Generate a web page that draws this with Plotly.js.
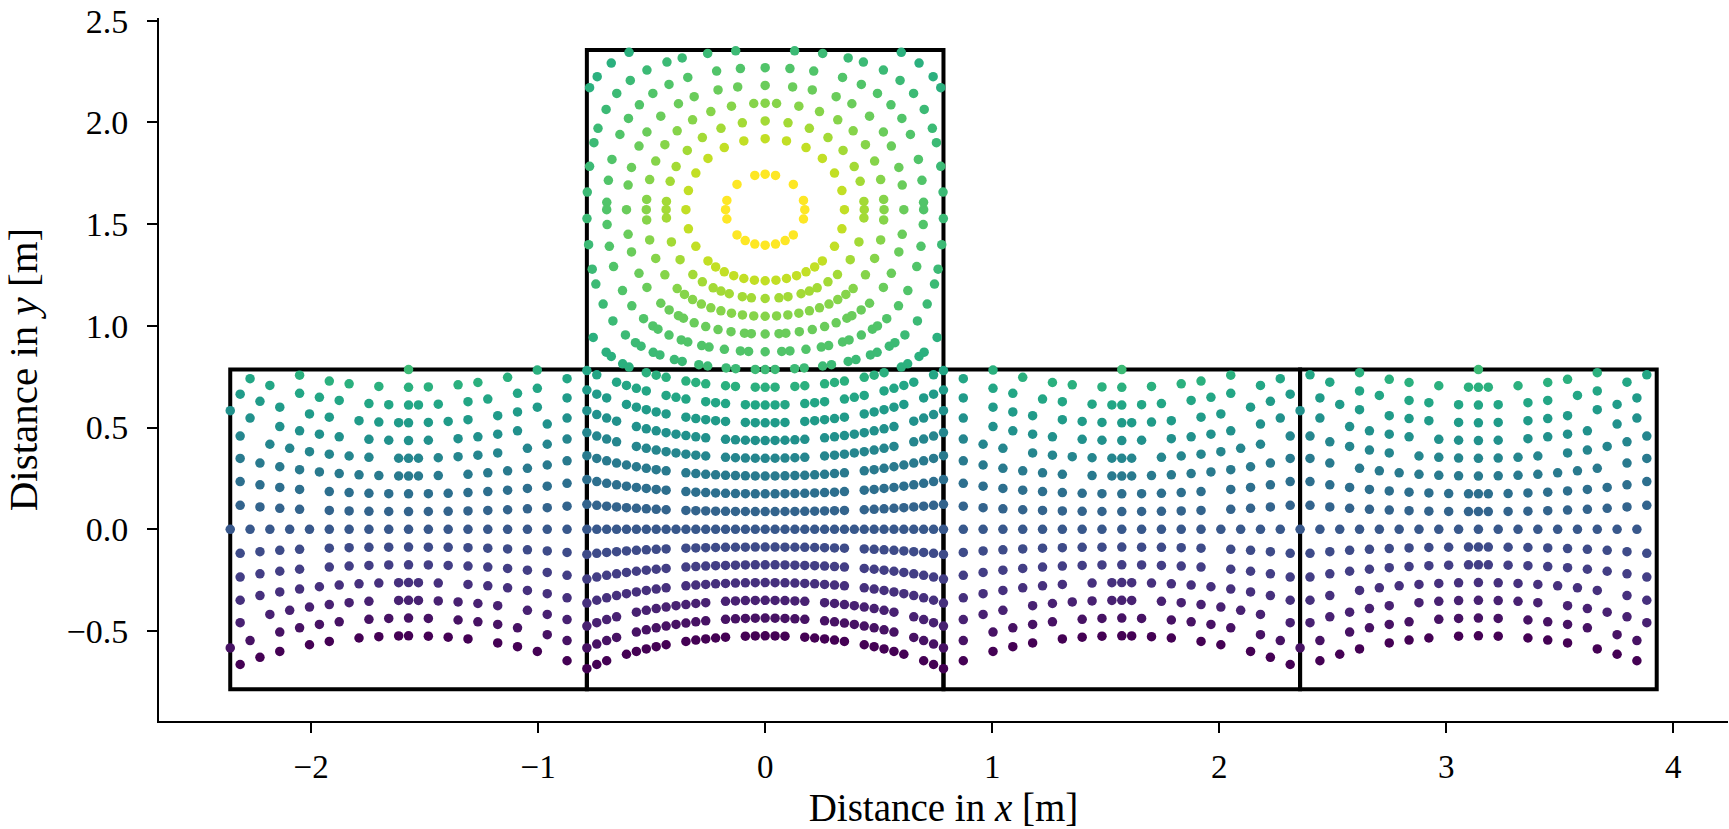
<!DOCTYPE html>
<html><head><meta charset="utf-8">
<script src="https://cdn.plot.ly/plotly-3.0.1.min.js"></script>
<style>html,body{margin:0;padding:0;background:#fff;}</style>
</head><body>
<div id="chart" style="width:1729px;height:829px;"></div>
<script>
// Sample directions: for each elevation ring (deg) the azimuths (deg) present.
const azElM30 = [-175,-167.5,-162.5,-157.5,-150,-145,-140,-132.5,-127.5,-122.5,-115,-110,-102.5,-97.5,-92.5,-90,-85,-80,-75,-67.5,-62.5,-57.5,-50,-45,-42.5,-40,-35,-32.5,-30,-27.5,-25,-20,-17.5,-15,-12.5,-10,-5,-2.5,0,2.5,5,10,12.5,15,17.5,20,25,27.5,30,32.5,35,40,42.5,45,50,57.5,62.5,67.5,75,80,85,90,92.5,97.5,102.5,110,115,122.5,127.5,132.5,140,145,150,157.5,162.5,167.5,175,180];
const azElM25 = [-175,-167.5,-162.5,-157.5,-152.5,-145,-140,-135,-130,-122.5,-117.5,-112.5,-107.5,-100,-95,-90,-85,-77.5,-72.5,-67.5,-62.5,-55,-50,-45,-42.5,-40,-37.5,-32.5,-30,-27.5,-25,-22.5,-20,-17.5,-15,-10,-7.5,-5,-2.5,0,2.5,5,7.5,10,15,17.5,20,22.5,25,27.5,30,32.5,37.5,40,42.5,45,50,57.5,62.5,67.5,72.5,80,85,90,95,102.5,107.5,112.5,117.5,125,130,135,140,147.5,152.5,157.5,162.5,170,175,180];
const azElM20 = [-175,-170,-165,-157.5,-152.5,-147.5,-142.5,-137.5,-132.5,-125,-120,-115,-110,-105,-100,-92.5,-90,-87.5,-82.5,-77.5,-72.5,-67.5,-60,-55,-50,-45,-42.5,-40,-37.5,-32.5,-30,-27.5,-25,-22.5,-20,-17.5,-15,-10,-7.5,-5,-2.5,0,2.5,5,7.5,10,15,17.5,20,22.5,25,27.5,30,32.5,37.5,40,42.5,45,50,55,60,67.5,72.5,77.5,82.5,87.5,90,92.5,100,105,110,115,120,125,132.5,137.5,142.5,147.5,152.5,157.5,165,170,175,180];
const azElM15 = [-175,-170,-165,-160,-155,-150,-142.5,-137.5,-132.5,-127.5,-122.5,-117.5,-112.5,-107.5,-102.5,-97.5,-92.5,-90,-87.5,-82.5,-75,-70,-65,-60,-55,-50,-45,-42.5,-40,-37.5,-35,-32.5,-30,-27.5,-25,-20,-17.5,-15,-12.5,-10,-7.5,-5,-2.5,0,2.5,5,7.5,10,12.5,15,17.5,20,25,27.5,30,32.5,35,37.5,40,42.5,45,50,55,60,65,70,75,82.5,87.5,90,92.5,97.5,102.5,107.5,112.5,117.5,122.5,127.5,132.5,137.5,142.5,150,155,160,165,170,175,180];
const azElM10 = [-177.5,-172.5,-167.5,-162.5,-157.5,-152.5,-147.5,-142.5,-137.5,-132.5,-127.5,-122.5,-117.5,-110,-105,-100,-95,-90,-85,-80,-75,-70,-65,-60,-55,-50,-45,-42.5,-40,-37.5,-35,-32.5,-30,-27.5,-25,-20,-17.5,-15,-12.5,-10,-7.5,-5,-2.5,0,2.5,5,7.5,10,12.5,15,17.5,20,25,27.5,30,32.5,35,37.5,40,42.5,45,50,55,60,65,70,75,80,85,90,95,100,105,110,117.5,122.5,127.5,132.5,137.5,142.5,147.5,152.5,157.5,162.5,167.5,172.5,177.5,180];
const azElM5 = [-177.5,-172.5,-167.5,-162.5,-157.5,-152.5,-147.5,-142.5,-137.5,-132.5,-127.5,-122.5,-117.5,-110,-105,-100,-95,-90,-85,-80,-75,-70,-65,-60,-55,-50,-45,-42.5,-40,-37.5,-35,-32.5,-30,-27.5,-25,-20,-17.5,-15,-12.5,-10,-7.5,-5,-2.5,0,2.5,5,7.5,10,12.5,15,17.5,20,25,27.5,30,32.5,35,37.5,40,42.5,45,50,55,60,65,70,75,80,85,90,95,100,105,110,117.5,122.5,127.5,132.5,137.5,142.5,147.5,152.5,157.5,162.5,167.5,172.5,177.5,180];
const azEl0 = [-175,-170,-165,-160,-155,-150,-145,-140,-135,-130,-125,-120,-115,-110,-105,-100,-95,-90,-85,-80,-75,-70,-65,-60,-55,-50,-45,-42.5,-40,-37.5,-35,-32.5,-30,-27.5,-25,-22.5,-20,-17.5,-15,-12.5,-10,-7.5,-5,-2.5,0,2.5,5,7.5,10,12.5,15,17.5,20,22.5,25,27.5,30,32.5,35,37.5,40,42.5,45,50,55,60,65,70,75,80,85,90,95,100,105,110,115,120,125,130,135,140,145,150,155,160,165,170,175,180];
const azEl5 = [-177.5,-172.5,-167.5,-162.5,-157.5,-152.5,-147.5,-142.5,-137.5,-132.5,-127.5,-122.5,-117.5,-110,-105,-100,-95,-90,-85,-80,-75,-70,-65,-60,-55,-50,-45,-42.5,-40,-37.5,-35,-32.5,-30,-27.5,-25,-20,-17.5,-15,-12.5,-10,-7.5,-5,-2.5,0,2.5,5,7.5,10,12.5,15,17.5,20,25,27.5,30,32.5,35,37.5,40,42.5,45,50,55,60,65,70,75,80,85,90,95,100,105,110,117.5,122.5,127.5,132.5,137.5,142.5,147.5,152.5,157.5,162.5,167.5,172.5,177.5,180];
const azEl10 = [-177.5,-172.5,-167.5,-162.5,-157.5,-152.5,-147.5,-142.5,-137.5,-132.5,-127.5,-122.5,-117.5,-110,-105,-100,-95,-90,-85,-80,-75,-70,-65,-60,-55,-50,-45,-42.5,-40,-37.5,-35,-32.5,-30,-27.5,-25,-20,-17.5,-15,-12.5,-10,-7.5,-5,-2.5,0,2.5,5,7.5,10,12.5,15,17.5,20,25,27.5,30,32.5,35,37.5,40,42.5,45,50,55,60,65,70,75,80,85,90,95,100,105,110,117.5,122.5,127.5,132.5,137.5,142.5,147.5,152.5,157.5,162.5,167.5,172.5,177.5,180];
const azEl15 = [-175,-170,-165,-160,-155,-150,-142.5,-137.5,-132.5,-127.5,-122.5,-117.5,-112.5,-107.5,-102.5,-97.5,-92.5,-90,-87.5,-82.5,-75,-70,-65,-60,-55,-50,-45,-42.5,-40,-37.5,-35,-32.5,-30,-27.5,-25,-20,-17.5,-15,-12.5,-10,-7.5,-5,-2.5,0,2.5,5,7.5,10,12.5,15,17.5,20,25,27.5,30,32.5,35,37.5,40,42.5,45,50,55,60,65,70,75,82.5,87.5,90,92.5,97.5,102.5,107.5,112.5,117.5,122.5,127.5,132.5,137.5,142.5,150,155,160,165,170,175,180];
const azEl20 = [-175,-170,-165,-157.5,-152.5,-147.5,-142.5,-137.5,-132.5,-125,-120,-115,-110,-105,-100,-92.5,-90,-87.5,-82.5,-77.5,-72.5,-67.5,-60,-55,-50,-45,-42.5,-40,-37.5,-32.5,-30,-27.5,-25,-22.5,-20,-17.5,-15,-10,-7.5,-5,-2.5,0,2.5,5,7.5,10,15,17.5,20,22.5,25,27.5,30,32.5,37.5,40,42.5,45,50,55,60,67.5,72.5,77.5,82.5,87.5,90,92.5,100,105,110,115,120,125,132.5,137.5,142.5,147.5,152.5,157.5,165,170,175,180];
const azEl25 = [-175,-167.5,-162.5,-157.5,-152.5,-145,-140,-135,-130,-122.5,-117.5,-112.5,-107.5,-100,-95,-90,-85,-77.5,-72.5,-67.5,-62.5,-55,-50,-45,-42.5,-40,-37.5,-32.5,-30,-27.5,-25,-22.5,-20,-17.5,-15,-10,-7.5,-5,-2.5,0,2.5,5,7.5,10,15,17.5,20,22.5,25,27.5,30,32.5,37.5,40,42.5,45,50,57.5,62.5,67.5,72.5,80,85,90,95,102.5,107.5,112.5,117.5,125,130,135,140,147.5,152.5,157.5,162.5,170,175,180];
const azEl30 = [-175,-167.5,-162.5,-157.5,-150,-145,-140,-132.5,-127.5,-122.5,-115,-110,-102.5,-97.5,-92.5,-90,-85,-80,-75,-67.5,-62.5,-57.5,-50,-45,-42.5,-40,-35,-32.5,-30,-27.5,-25,-20,-17.5,-15,-12.5,-10,-5,-2.5,0,2.5,5,10,12.5,15,17.5,20,25,27.5,30,32.5,35,40,42.5,45,50,57.5,62.5,67.5,75,80,85,90,92.5,97.5,102.5,110,115,122.5,127.5,132.5,140,145,150,157.5,162.5,167.5,175,180];
const azEl35 = [-175,-167.5,-162.5,-155,-150,-142.5,-137.5,-130,-125,-117.5,-112.5,-107.5,-100,-95,-90,-87.5,-82.5,-75,-70,-62.5,-57.5,-50,-45,-42.5,-37.5,-35,-32.5,-30,-25,-22.5,-20,-15,-12.5,-10,-5,-2.5,0,2.5,5,10,12.5,15,20,22.5,25,30,32.5,35,37.5,42.5,45,50,57.5,62.5,70,75,82.5,87.5,90,95,100,107.5,112.5,117.5,125,130,137.5,142.5,150,155,162.5,167.5,175,180];
const azEl40 = [-177.5,-170,-162.5,-157.5,-150,-145,-137.5,-130,-125,-117.5,-110,-105,-97.5,-90,-85,-77.5,-72.5,-65,-57.5,-52.5,-45,-42.5,-37.5,-35,-30,-27.5,-25,-20,-17.5,-15,-10,-7.5,-2.5,0,2.5,7.5,10,15,17.5,20,25,27.5,30,35,37.5,42.5,45,52.5,57.5,65,72.5,77.5,85,90,97.5,105,110,117.5,125,130,137.5,145,150,157.5,162.5,170,177.5,180];
const azEl45 = [-172.5,-165,-157.5,-152.5,-145,-137.5,-130,-122.5,-115,-110,-102.5,-95,-90,-87.5,-80,-72.5,-67.5,-60,-52.5,-45,-40,-37.5,-32.5,-30,-25,-22.5,-17.5,-15,-10,-7.5,-2.5,0,2.5,7.5,10,15,17.5,22.5,25,30,32.5,37.5,40,45,52.5,60,67.5,72.5,80,87.5,90,95,102.5,110,115,122.5,130,137.5,145,152.5,157.5,165,172.5,180];
const azEl50 = [-172.5,-165,-155,-147.5,-140,-132.5,-125,-117.5,-107.5,-100,-92.5,-90,-85,-77.5,-70,-60,-52.5,-45,-40,-37.5,-32.5,-27.5,-25,-20,-17.5,-12.5,-7.5,-5,0,5,7.5,12.5,17.5,20,25,27.5,32.5,37.5,40,45,52.5,60,70,77.5,85,90,92.5,100,107.5,117.5,125,132.5,140,147.5,155,165,172.5,180];
const azEl55 = [-170,-162.5,-152.5,-145,-135,-125,-117.5,-107.5,-100,-90,-80,-72.5,-62.5,-55,-45,-40,-35,-32.5,-27.5,-22.5,-17.5,-12.5,-7.5,-5,0,5,7.5,12.5,17.5,22.5,27.5,32.5,35,40,45,55,62.5,72.5,80,90,100,107.5,117.5,125,135,145,152.5,162.5,170,180];
const azEl60 = [-175,-165,-155,-145,-135,-125,-115,-105,-95,-90,-85,-75,-65,-55,-45,-40,-35,-30,-25,-20,-15,-10,-5,0,5,10,15,20,25,30,35,40,45,55,65,75,85,90,95,105,115,125,135,145,155,165,175,180];
const azEl65 = [-167.5,-155,-142.5,-130,-117.5,-107.5,-95,-90,-85,-70,-57.5,-45,-37.5,-30,-25,-20,-12.5,-7.5,0,7.5,12.5,20,25,30,37.5,45,57.5,70,85,90,95,107.5,117.5,130,142.5,155,167.5,180];
const azEl70 = [-165,-150,-135,-120,-105,-90,-75,-60,-45,-37.5,-30,-22.5,-15,-7.5,0,7.5,15,22.5,30,37.5,45,60,75,90,105,120,135,150,165,180];
const azEl80 = [-165,-135,-105,-90,-75,-45,-30,-15,0,15,30,45,75,90,105,135,165,180];

const elevations = [-30,-25,-20,-15,-10,-5,0,5,10,15,20,25,30,35,40,45,50,55,60,65,70,80];
const ringAzimuths = [azElM30,azElM25,azElM20,azElM15,azElM10,azElM5,azEl0,azEl5,azEl10,azEl15,azEl20,azEl25,azEl30,azEl35,azEl40,azEl45,azEl50,azEl55,azEl60,azEl65,azEl70,azEl80];

// Equiangular cube-net map projection (the figure's coordinate system)
function cubeNet(azDeg, elDeg) {
  const a = azDeg * Math.PI / 180, e = elDeg * Math.PI / 180;
  const X = Math.cos(e) * Math.sin(a), Y = Math.cos(e) * Math.cos(a), Z = Math.sin(e);
  const m = Math.max(X, -X, Y, -Y), eps = 1e-9, q = Math.PI / 2;
  if (Z > m + eps) return [Math.atan(X / Z), q - Math.atan(Y / Z)];
  if (Y >= m - eps) return [Math.atan(X / Y), Math.atan(Z / Y)];
  if (-X >= m - eps) return [-q + Math.atan(Y / (-X)), Math.atan(Z / (-X))];
  if (X >= m - eps) return [q + Math.atan(-Y / X), Math.atan(Z / X)];
  return [Math.PI + Math.atan(X / Y), Math.atan(Z / (-Y))];
}

const xs = [], ys = [], cs = [];
elevations.forEach((el, i) => {
  ringAzimuths[i].forEach(az => {
    const p = cubeNet(az, el);
    xs.push(p[0]); ys.push(p[1]); cs.push(el);
  });
});

const Q = Math.PI / 4;
const faces = [[-3, -1, -1, 1], [-1, 1, -1, 1], [1, 3, -1, 1], [3, 5, -1, 1], [-1, 1, 1, 3]];
const shapes = faces.map(f => ({
  type: 'rect', xref: 'x', yref: 'y', layer: 'below',
  x0: f[0] * Q, x1: f[1] * Q, y0: f[2] * Q, y1: f[3] * Q,
  line: {color: '#000', width: 4}, fillcolor: 'rgba(0,0,0,0)'
}));

const FONT = 'Liberation Serif, Times New Roman, serif';
const trace = {
  type: 'scatter', mode: 'markers', x: xs, y: ys, hoverinfo: 'skip',
  marker: {size: 9.5, color: cs, colorscale: 'Viridis', cmin: -30, cmax: 80, line: {width: 0}},
  showlegend: false
};

const layout = {
  width: 1729, height: 829,
  margin: {l: 159, r: 1, t: 18, b: 108},
  paper_bgcolor: '#fff', plot_bgcolor: '#fff',
  shapes: shapes,
  xaxis: {
    range: [-2.670, 4.241], tickvals: [-2, -1, 0, 1, 2, 3, 4], tickformat: 'd',
    showgrid: false, zeroline: false, showline: true, linecolor: '#000', linewidth: 2,
    ticks: 'outside', ticklen: 10, tickwidth: 2, tickcolor: '#000', ticklabelstandoff: 5,
    ticklabeloverflow: 'allow',
    tickfont: {family: FONT, size: 33, color: '#000'},
    title: {text: 'Distance in <i>x</i> [m]', font: {family: FONT, size: 39, color: '#000'}, standoff: 20},
    automargin: false
  },
  yaxis: {
    range: [-0.942, 2.513], tickvals: [-0.5, 0, 0.5, 1, 1.5, 2, 2.5], tickformat: '.1f',
    showgrid: false, zeroline: false, showline: true, linecolor: '#000', linewidth: 2,
    ticks: 'outside', ticklen: 10, tickwidth: 2, tickcolor: '#000', ticklabelstandoff: 12,
    ticklabeloverflow: 'allow',
    tickfont: {family: FONT, size: 34, color: '#000'},
    title: {text: 'Distance in <i>y</i> [m]', font: {family: FONT, size: 41, color: '#000'}, standoff: 20},
    automargin: false
  }
};

Plotly.newPlot('chart', [trace], layout, {staticPlot: true, displayModeBar: false});
</script>
</body></html>
